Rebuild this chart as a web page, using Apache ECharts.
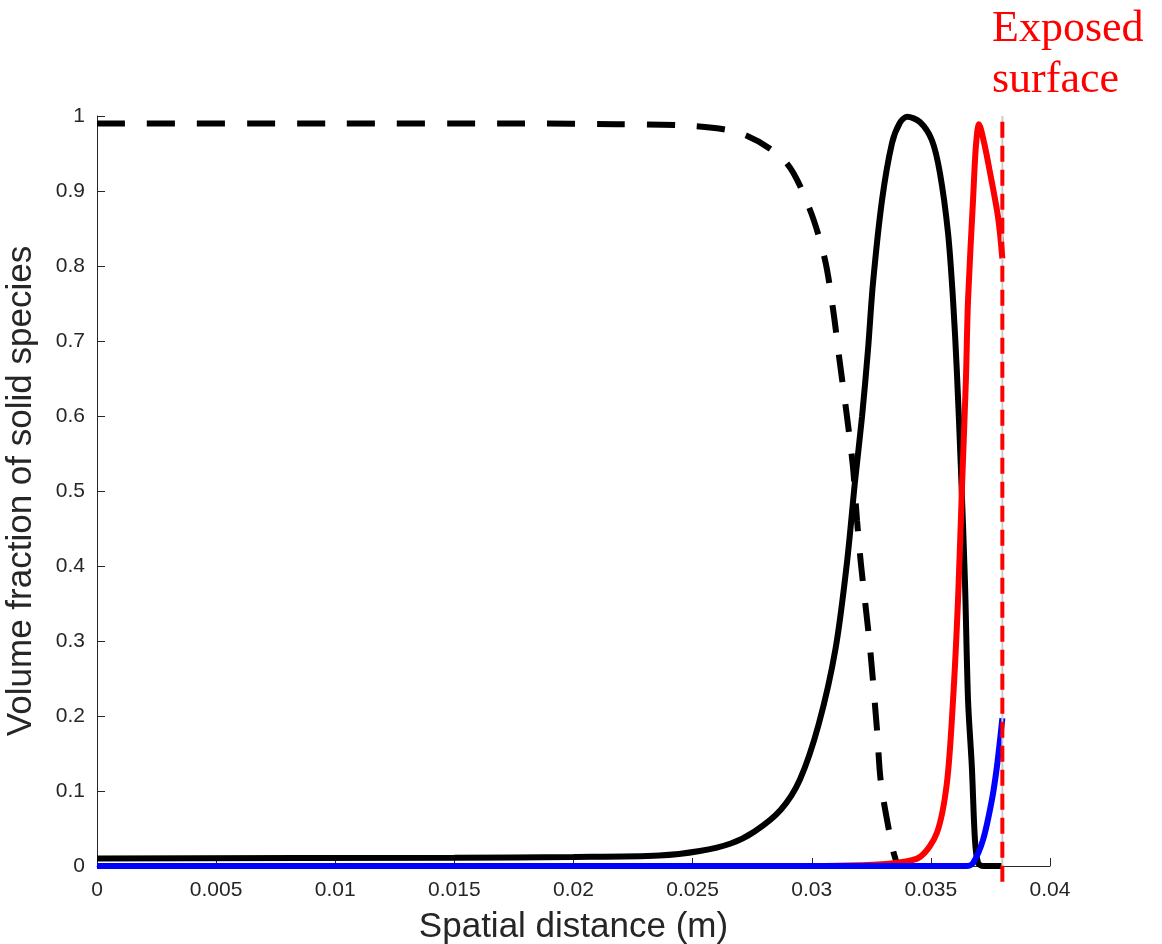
<!DOCTYPE html>
<html>
<head>
<meta charset="utf-8">
<script src="https://cdn.jsdelivr.net/npm/echarts@6/dist/echarts.min.js"></script>
<style>
  html, body { margin: 0; padding: 0; background: #fff; overflow: hidden; }
  #main { width: 1162px; height: 944px; }
</style>
</head>
<body>
<div id="main"></div>
<script>
//////////// data //////////////////
var xTicks = [0, 0.005, 0.01, 0.015, 0.02, 0.025, 0.03, 0.035, 0.04];
var yTicks = [0, 0.1, 0.2, 0.3, 0.4, 0.5, 0.6, 0.7, 0.8, 0.9, 1];

// black dashed
var dashX = [0, 0.01, 0.018, 0.0218, 0.0249, 0.0271, 0.0289, 0.0299, 0.03055, 0.0309, 0.03118, 0.03148, 0.03173, 0.0319, 0.03206, 0.03244, 0.03274, 0.0329, 0.03328, 0.03349, 0.0337, 0.038];
var dashY = [0.99, 0.99, 0.99, 0.989, 0.987, 0.976, 0.939, 0.877, 0.809, 0.741, 0.671, 0.599, 0.532, 0.461, 0.404, 0.293, 0.181, 0.112, 0.041, 0.012, 0.0, 0.0];

// black solid
var blackX = [0, 0.015, 0.02, 0.0236, 0.0253, 0.0266, 0.0276, 0.0287, 0.0295, 0.0303, 0.031, 0.03148, 0.03181, 0.03211, 0.03236, 0.03257, 0.03295, 0.03337, 0.0337, 0.034, 0.03454, 0.03504, 0.03538, 0.03572, 0.03593, 0.03609, 0.03626, 0.03643, 0.03656, 0.03672, 0.03685, 0.03698, 0.0372, 0.038];
var blackY = [0.01, 0.011, 0.012, 0.014, 0.02, 0.03, 0.046, 0.075, 0.115, 0.19, 0.29, 0.405, 0.511, 0.599, 0.688, 0.777, 0.888, 0.964, 0.991, 0.999, 0.992, 0.968, 0.924, 0.844, 0.755, 0.66, 0.53, 0.38, 0.221, 0.132, 0.035, 0.004, 0, 0];

// red solid
var redX = [0, 0.03, 0.032, 0.0335, 0.03454, 0.03525, 0.03567, 0.03593, 0.03614, 0.0363, 0.03647, 0.03656, 0.03677, 0.03689, 0.03702, 0.03723, 0.03748, 0.03782, 0.038];
var redY = [0, 0, 0.001, 0.004, 0.012, 0.044, 0.11, 0.221, 0.355, 0.5, 0.648, 0.755, 0.888, 0.96, 0.989, 0.965, 0.925, 0.865, 0.81];

// blue solid
var blueX = [0, 0.0365, 0.03677, 0.03719, 0.03756, 0.03777, 0.038];
var blueY = [0, 0, 0.004, 0.035, 0.088, 0.132, 0.197];

// exposed surface marker
var surfaceX = 0.038;
var surfaceY = [-0.021, 1];

function pairs(xs, ys) {
    return xs.map(function (x, i) { return [x, ys[i]]; });
}

var dom = document.getElementById('main');
var myChart = echarts.init(dom, null, { renderer: 'canvas' });
var axisColor = '#262626';
var font = 'Liberation Sans, Arial, Helvetica, sans-serif';

var option = {
    backgroundColor: '#FFFFFF',
    animation: false,
    title: {
        text: 'Exposed\nsurface',
        left: 992,
        top: 4,
        padding: 0,
        textStyle: {
            color: '#FF0000',
            fontFamily: 'Liberation Serif, Times New Roman, serif',
            fontWeight: 'normal',
            fontSize: 44,
            lineHeight: 51
        }
    },
    grid: {
        left: 97,
        right: 112,
        top: 116,
        bottom: 78,
        outerBoundsMode: 'none'
    },
    xAxis: {
        type: 'value',
        min: xTicks[0],
        max: xTicks[xTicks.length - 1],
        interval: 0.005,
        name: 'Spatial distance (m)',
        nameLocation: 'middle',
        nameGap: 44,
        nameTextStyle: { color: axisColor, fontSize: 35, fontFamily: font },
        axisLine: { onZero: false, lineStyle: { color: axisColor, width: 1 } },
        axisTick: { inside: true, length: 8, lineStyle: { color: axisColor } },
        axisLabel: {
            color: axisColor, fontSize: 21, fontFamily: font, margin: 14,
            formatter: function (v) { return String(+v.toFixed(3)); }
        },
        splitLine: { show: false }
    },
    yAxis: {
        type: 'value',
        min: yTicks[0],
        max: yTicks[yTicks.length - 1],
        interval: 0.1,
        name: 'Volume fraction of solid species',
        nameLocation: 'middle',
        nameGap: 58,
        nameTextStyle: { color: axisColor, fontSize: 35, fontFamily: font },
        axisLine: { show: true, onZero: false, lineStyle: { color: axisColor, width: 1 } },
        axisTick: { show: true, inside: true, length: 8, lineStyle: { color: axisColor } },
        axisLabel: {
            color: axisColor, fontSize: 21, fontFamily: font, margin: 12,
            formatter: function (v) { return String(+v.toFixed(1)); }
        },
        splitLine: { show: false }
    },
    series: [
        {
            type: 'line',
            data: pairs(dashX, dashY),
            symbol: 'none',
            smooth: 0.3,
            lineStyle: { color: '#000000', width: 6, type: [28, 22], cap: 'butt' },
            z: 2
        },
        {
            type: 'line',
            data: pairs(blackX, blackY),
            symbol: 'none',
            smooth: 0.3,
            lineStyle: { color: '#000000', width: 6 },
            z: 3
        },
        {
            type: 'line',
            data: pairs(redX, redY),
            symbol: 'none',
            smooth: 0.3,
            lineStyle: { color: '#FF0000', width: 6 },
            z: 4
        },
        {
            type: 'line',
            data: pairs(blueX, blueY),
            symbol: 'none',
            smooth: 0.3,
            lineStyle: { color: '#0000FF', width: 6 },
            z: 5
        },
        {
            type: 'line',
            data: surfaceY.map(function (y) { return [surfaceX, y]; }),
            symbol: 'none',
            clip: false,
            lineStyle: { color: '#CCCCCC', width: 2 },
            z: 6
        },
        {
            type: 'line',
            data: surfaceY.map(function (y) { return [surfaceX, y]; }),
            symbol: 'none',
            clip: false,
            lineStyle: { color: '#FF0000', width: 4, type: [16, 8], cap: 'butt' },
            z: 7
        }
    ]
};
myChart.setOption(option);
</script>
</body>
</html>
